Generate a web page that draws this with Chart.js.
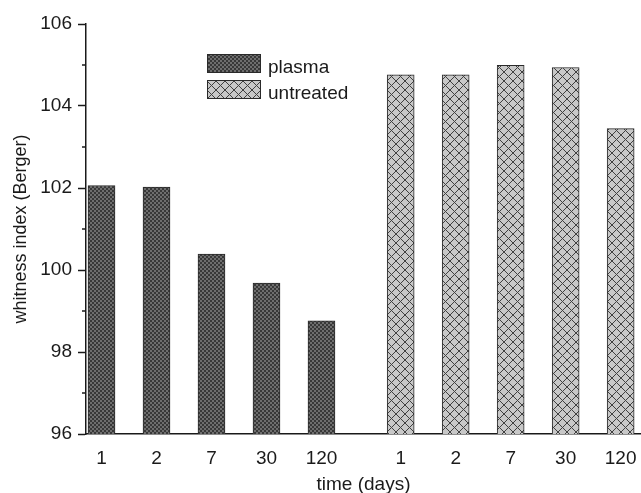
<!DOCTYPE html>
<html>
<head>
<meta charset="utf-8">
<script src="https://cdn.jsdelivr.net/npm/chart.js@4.4.1/dist/chart.umd.min.js"></script>
<style>
  html, body { margin: 0; padding: 0; background: #fff; }
  #wrap { width: 641px; height: 493px; position: relative; }
</style>
</head>
<body>
<div id="wrap"><canvas id="whiteChart"></canvas></div>
<script>
// storage time (days) of each bar in a group
const days = ['1', '2', '7', '30', '120'];
// whitness index (Berger)
const plasma = [102.06, 102.02, 100.39, 99.68, 98.76];
const untreated = [104.76, 104.76, 104.99, 104.94, 103.45];
const yTicks = [96, 98, 100, 102, 104, 106];

// x slots: plasma group at 1..5, untreated group after a gap
const groupGap = 0.44;
const plasmaX = days.map((d, i) => i + 1);
const untreatedX = days.map((d, i) => i + 1 + days.length + groupGap);

const ink = '#1a1a1a';
Chart.defaults.font.family = '"Liberation Sans", Arial, sans-serif';

const canvas = document.getElementById('whiteChart');
const ctx = canvas.getContext('2d');

function makePattern(size, draw) {
    const c = document.createElement('canvas');
    c.width = size;
    c.height = size;
    draw(c.getContext('2d'), size);
    return ctx.createPattern(c, 'repeat');
}

// fine dark checker
const darkHatch = makePattern(4, (g, s) => {
    g.fillStyle = '#383838';
    g.fillRect(0, 0, s, s);
    g.fillStyle = '#6e6e6e';
    g.fillRect(0, 0, 2, 2);
    g.fillRect(2, 2, 2, 2);
});

// light grey with diagonal cross lines
const lightHatch = makePattern(9, (g, s) => {
    g.fillStyle = '#c8c8c8';
    g.fillRect(0, 0, s, s);
    g.strokeStyle = '#404040';
    g.lineWidth = 1;
    g.beginPath();
    for (const o of [-s, 0, s]) {
        g.moveTo(o - 1, -1); g.lineTo(o + s + 1, s + 1);
        g.moveTo(o + s + 1, -1); g.lineTo(o - 1, s + 1);
    }
    g.stroke();
});

// short ticks at odd values on the y axis
const minorTicks = {
    id: 'minorTicks',
    afterDraw(chart) {
        const y = chart.scales.y;
        const x0 = chart.chartArea.left;
        const c = chart.ctx;
        c.save();
        c.strokeStyle = ink;
        c.lineWidth = 1.5;
        for (let v = y.min + 1; v < y.max; v += 2) {
            const py = y.getPixelForValue(v);
            c.beginPath();
            c.moveTo(x0 - 4, py);
            c.lineTo(x0, py);
            c.stroke();
        }
        c.restore();
    }
};

// legend boxes inside the plot
const boxLegend = {
    id: 'boxLegend',
    afterDraw(chart) {
        const c = chart.ctx;
        c.save();
        c.font = '19px "Liberation Sans", Arial, sans-serif';
        c.textBaseline = 'alphabetic';
        chart.data.datasets.forEach((ds, i) => {
            const top = 54 + i * 26;
            c.fillStyle = ds.backgroundColor;
            c.fillRect(207, top, 54, 19);
            c.strokeStyle = '#2a2a2a';
            c.lineWidth = 1;
            c.strokeRect(207.5, top + 0.5, 53, 18);
            c.fillStyle = ink;
            c.fillText(ds.label, 268, top + 19);
        });
        c.restore();
    }
};

new Chart(ctx, {
    type: 'bar',
    data: {
        datasets: [
            {
                label: 'plasma',
                data: plasmaX.map((x, i) => ({ x, y: plasma[i] })),
                backgroundColor: darkHatch,
                borderColor: '#2a2a2a',
                borderWidth: 1,
                barThickness: 27,
                grouped: false
            },
            {
                label: 'untreated',
                data: untreatedX.map((x, i) => ({ x, y: untreated[i] })),
                backgroundColor: lightHatch,
                borderColor: '#2a2a2a',
                borderWidth: 1,
                barThickness: 27,
                grouped: false
            }
        ]
    },
    options: {
        responsive: true,
        maintainAspectRatio: false,
        animation: false,
        layout: { padding: { top: 24, right: 0, bottom: 0, left: 0 } },
        plugins: {
            legend: { display: false },
            tooltip: { enabled: false }
        },
        scales: {
            x: {
                type: 'linear',
                min: 0.718,
                max: 10.81,
                offset: false,
                grid: { display: false, drawTicks: false },
                border: { display: true, color: ink, width: 1.5 },
                afterBuildTicks: s => {
                    s.ticks = [...plasmaX, ...untreatedX].map(v => ({ value: v }));
                },
                ticks: {
                    callback: (v, i) => days[i % days.length],
                    autoSkip: false,
                    maxRotation: 0,
                    color: ink,
                    font: { size: 19 },
                    padding: 13
                },
                title: {
                    display: true,
                    text: 'time (days)',
                    color: ink,
                    font: { size: 19 },
                    padding: { top: 0, bottom: -3 }
                },
                afterFit: s => {
                    s.height = 59;
                    s.paddingLeft = 0;
                    s.paddingRight = 0;
                }
            },
            y: {
                min: 96,
                max: 106,
                afterBuildTicks: s => {
                    s.ticks = yTicks.map(v => ({ value: v }));
                },
                grid: {
                    drawOnChartArea: false,
                    drawTicks: true,
                    tickLength: 8,
                    tickColor: ink,
                    tickWidth: 1.5
                },
                border: { display: true, color: ink, width: 1.5 },
                ticks: {
                    color: ink,
                    font: { size: 19 },
                    padding: 6
                },
                title: {
                    display: true,
                    text: 'whitness index (Berger)',
                    color: ink,
                    font: { size: 18 },
                    padding: { top: 10, bottom: 0 }
                },
                afterFit: s => { s.width = 86; }
            }
        }
    },
    plugins: [minorTicks, boxLegend]
});
</script>
</body>
</html>
